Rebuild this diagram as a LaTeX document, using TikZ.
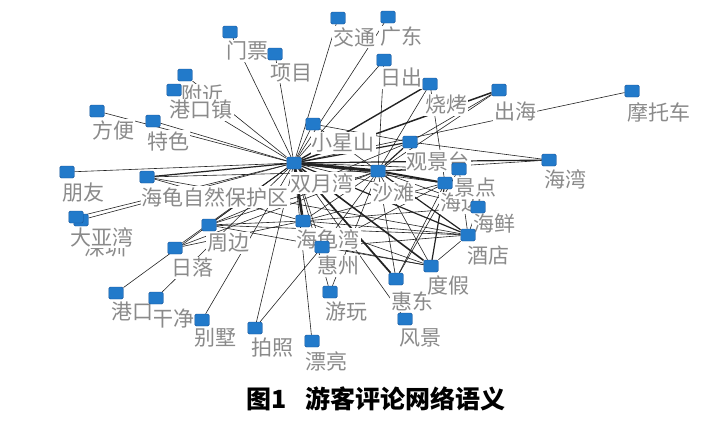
\documentclass[tikz,border=0pt]{standalone}
\usepackage{fontspec}
\newfontfamily\cjk{Noto Sans CJK SC}
\pgfdeclarelayer{edges}
\pgfdeclarelayer{labels}
\pgfsetlayers{edges,labels,main}
\definecolor{nodeblue}{RGB}{34,122,202}
\definecolor{nodeline}{RGB}{22,82,150}
\definecolor{labgray}{RGB}{138,138,138}
\definecolor{edgecol}{RGB}{35,35,35}
\begin{document}
\begin{tikzpicture}[x=1pt,y=-1pt,
  sq/.style={draw=nodeline, line width=0.4pt, fill=nodeblue, minimum width=14.5pt, minimum height=12pt, inner sep=0pt, rounded corners=1.5pt},
  lab/.style={font=\cjk\fontsize{21}{21}\selectfont, text=labgray, fill=white, inner sep=1pt},
  e/.style={draw=edgecol, line width=0.6pt},
  em/.style={draw=edgecol, line width=1.2pt},
  et/.style={draw=edgecol, line width=2pt},
  ex/.style={draw=edgecol, line width=3pt},
  captext/.style={font=\cjk\bfseries\fontsize{25}{25}\selectfont, text=black, inner sep=0pt}
]
\useasboundingbox (0,0) rectangle (726,424);

% ---------- squares (main layer) ----------
\node[sq] (n01) at (230,32) {};
\node[sq] (n02) at (275,54) {};
\node[sq] (n03) at (338,18) {};
\node[sq] (n04) at (388,17) {};
\node[sq] (n05) at (384,60) {};
\node[sq] (n06) at (185,75) {};
\node[sq] (n07) at (174,90) {};
\node[sq] (n08) at (430,84) {};
\node[sq] (n09) at (499,90) {};
\node[sq] (n10) at (632,91) {};
\node[sq] (n11) at (97,111) {};
\node[sq] (n12) at (153,121) {};
\node[sq] (n13) at (313,124) {};
\node[sq] (n14) at (410,142) {};
\node[sq] (n15) at (294,163) {};
\node[sq] (n16) at (378,171) {};
\node[sq] (n17) at (549,160) {};
\node[sq] (n18) at (459,169) {};
\node[sq] (n19) at (445,183) {};
\node[sq] (n20) at (478,207) {};
\node[sq] (n21) at (468,235) {};
\node[sq] (n22) at (303,221) {};
\node[sq] (n23) at (322,247) {};
\node[sq] (n24) at (330,292) {};
\node[sq] (n25) at (396,279) {};
\node[sq] (n26) at (431,266) {};
\node[sq] (n27) at (405,319) {};
\node[sq] (n28) at (255,328) {};
\node[sq] (n29) at (312,341) {};
\node[sq] (n30) at (202,320) {};
\node[sq] (n31) at (156,298) {};
\node[sq] (n32) at (116,293) {};
\node[sq] (n33) at (175,248) {};
\node[sq] (n34) at (209,225) {};
\node[sq] (n35) at (147,177) {};
\node[sq] (n36) at (67,172) {};
\node[sq] (n38) at (81,220) {};
\node[sq] (n37) at (76,217) {};

% ---------- labels (white backed, below squares) ----------
\begin{pgfonlayer}{labels}
\node[lab] (l01) at (247,51) {门票};
\node[lab] (l02) at (291,73) {项目};
\node[lab] (l03) at (354,37) {交通};
\node[lab] (l04) at (401,37) {广东};
\node[lab] (l05) at (401,78) {日出};
\node[lab] (l06) at (202,95) {附近};
\node[lab] (l07) at (201,110) {港口镇};
\node[lab] (l08) at (446,105) {烧烤};
\node[lab] (l09) at (515,111) {出海};
\node[lab] (l10) at (659,112) {摩托车};
\node[lab] (l11) at (113,130) {方便};
\node[lab] (l12) at (168,141) {特色};
\node[lab] (l13) at (343,143) {小星山};
\node[lab] (l14) at (438,161) {观景台};
\node[lab] (l15) at (322,183) {双月湾};
\node[lab] (l16) at (393,193) {沙滩};
\node[lab] (l17) at (565,179) {海湾};
\node[lab] (l19) at (461,203) {海边};
\node[lab] (l18) at (475,188) {景点};
\node[lab] (l20) at (494,224) {海鲜};
\node[lab] (l21) at (488,256) {酒店};
\node[lab] (l22) at (328,239) {海龟湾};
\node[lab] (l23) at (338,266) {惠州};
\node[lab] (l24) at (346,312) {游玩};
\node[lab] (l25) at (412,301) {惠东};
\node[lab] (l26) at (448,285) {度假};
\node[lab] (l27) at (420,338) {风景};
\node[lab] (l28) at (272,348) {拍照};
\node[lab] (l29) at (326,361) {漂亮};
\node[lab] (l30) at (215,338) {别墅};
\node[lab] (l31) at (173,318) {干净};
\node[lab] (l32) at (132,311) {港口};
\node[lab] (l33) at (192,268) {日落};
\node[lab] (l34) at (228,243) {周边};
\node[lab] (l35) at (215,197) {海龟自然保护区};
\node[lab] (l36) at (83,193) {朋友};
\node[lab] (l38) at (105,248) {深圳};
\node[lab] (l37) at (102,237) {大亚湾};
\end{pgfonlayer}

% ---------- connectors ----------
\begin{pgfonlayer}{edges}
% hub: 双月湾
\foreach \t in {n01,n02,n03,n04,n05,n06,n07,n10,n11,n12,n13,n18,n19,n20,n23,n24,n27,n28,n29,n30,n31,n32,n33,n34,n36,n37,n38}
  \draw[e] (n15) -- (\t);
\draw[em] (n15) -- (n14);
\draw[em] (n15) -- (n17);
\draw[em] (n15) -- (n21);
\draw[em] (n15) -- (n35);
\draw[line width=1.5pt, draw=edgecol] (n15) -- (n09);
\draw[line width=1.4pt, draw=edgecol] (n15) -- (n08);
\draw[line width=2.6pt, draw=edgecol] (n15) -- (n22);
\draw[line width=1.8pt, draw=edgecol] (n15) -- (n25);
\draw[line width=1.6pt, draw=edgecol] (n15) -- (n26);
\draw[ex] (n15) -- (n16);
% hub: 沙滩
\foreach \t in {n05,n08,n09,n13,n17,n18,n20,n22,n23,n24,n25,n26,n33,n34,n35}
  \draw[e] (n16) -- (\t);
\draw[em] (n16) -- (n14);
\draw[em] (n16) -- (n21);
\draw[et] (n16) -- (n19);
% other links
\draw[e] (n08) -- (n19);
\draw[e] (n09) -- (n14);
\draw[e] (n13) -- (n14);
\draw[e] (n17) -- (n14);
\draw[e] (n22) -- (n21);
\draw[e] (n22) -- (n26);
\draw[e] (n22) -- (n20);
\draw[e] (n22) -- (n19);
\draw[e] (n23) -- (n26);
\draw[e] (n23) -- (n21);
\draw[e] (n23) -- (n19);
\draw[e] (n25) -- (n19);
\draw[e] (n25) -- (n18);
\draw[em] (n26) -- (n19);
\draw[e] (n26) -- (n21);
\draw[e] (n21) -- (n18);
\draw[e] (n21) -- (n20);
\draw[e] (n34) -- (n22);
\draw[e] (n34) -- (n21);
\draw[e] (n34) -- (n26);
\draw[e] (n34) -- (n14);
\draw[e] (n35) -- (n22);
\draw[e] (n35) -- (n21);
\draw[e] (n33) -- (n22);
\draw[e] (n28) -- (n23);
\end{pgfonlayer}

% ---------- caption ----------
\node[captext] (caption) at (376,399) {图1\hspace{0.72em}游客评论网络语义};
\end{tikzpicture}
\end{document}
